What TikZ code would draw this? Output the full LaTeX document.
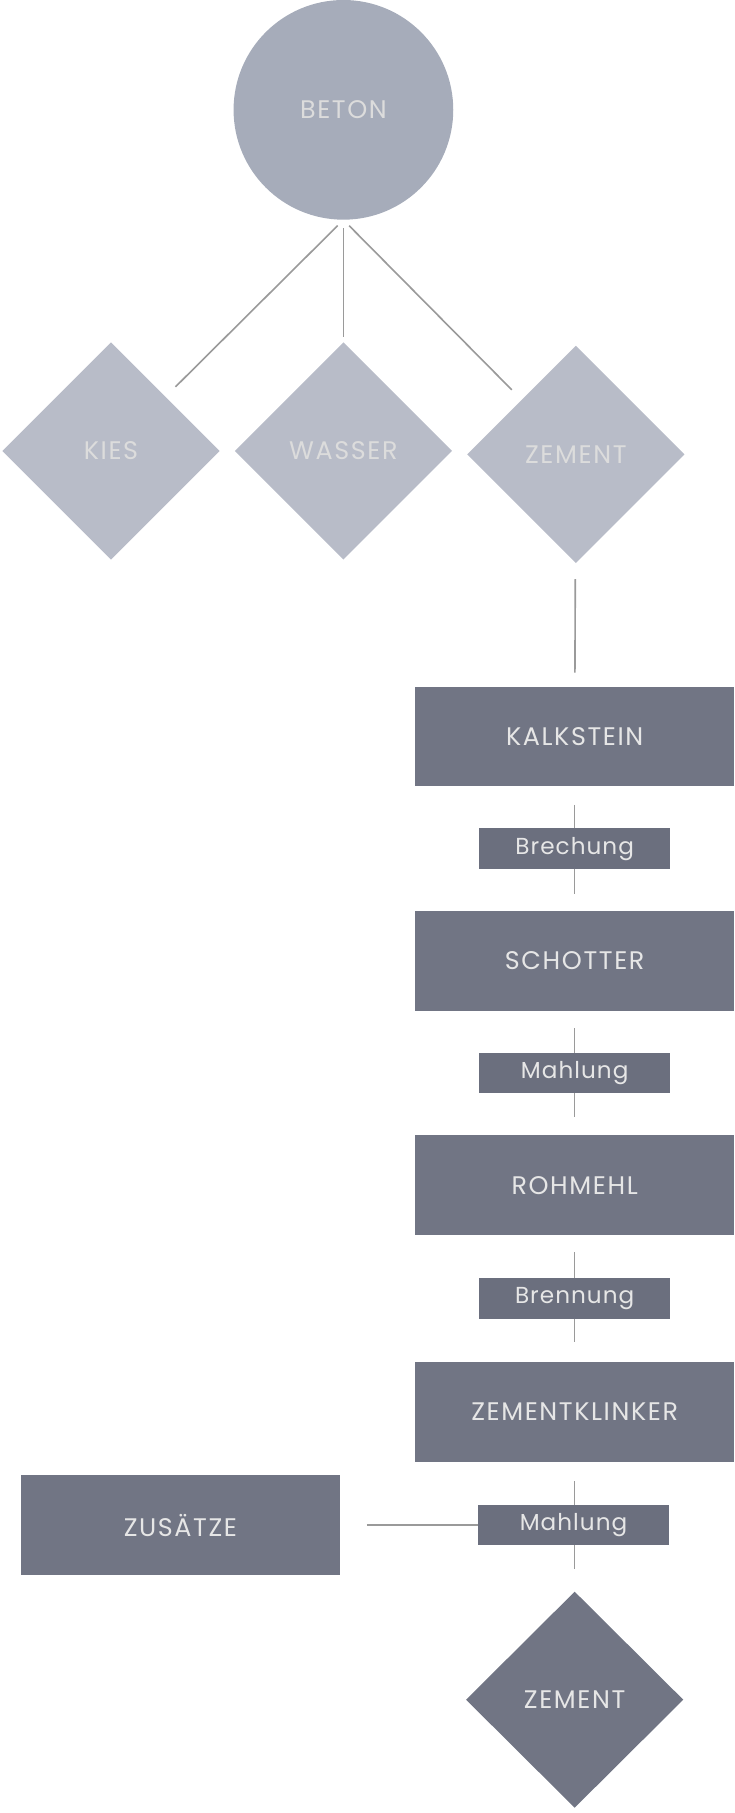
\documentclass[tikz,border=0pt]{standalone}
\usepackage{fontspec}
\setmainfont{Poppins}
\newfontfamily\knotenfont{Poppins}[LetterSpace=6.3]
\newfontfamily\schrittfont{Poppins}[LetterSpace=4.5]
\usepackage{xcolor}
\definecolor{Beton-fill}{HTML}{A6ACBA}
\definecolor{Stoff-fill}{HTML}{B8BCC8}
\definecolor{Prozess-fill}{HTML}{717584}
\definecolor{Schritt-fill}{HTML}{6B6F7E}
\definecolor{Linie}{HTML}{9A9A9A}
\definecolor{Text-hell}{HTML}{DCDCDC}
\definecolor{Text-weiss}{HTML}{E6E6E6}
\usetikzlibrary{shapes,positioning,calc}

\begin{document}
\begin{tikzpicture} [ % Stile
    x=1pt, y=-1pt, font=\knotenfont\fontsize{22}{24}\selectfont,
    kreis/.style = {circle, minimum size = 190pt, inner sep = 0pt, fill = Beton-fill, text = Text-hell, font=\knotenfont\fontsize{22}{24}\selectfont},
    raute/.style = {diamond, aspect = 1, minimum width = 188pt, minimum height = 188pt, inner sep = 0pt, fill = Stoff-fill, text = Text-hell, font=\knotenfont\fontsize{22}{24}\selectfont},
    raute2/.style = {diamond, aspect = 1, minimum width = 188pt, minimum height = 187pt, inner sep = 0pt, fill = Prozess-fill, text = Text-weiss, font=\knotenfont\fontsize{22}{24}\selectfont},
    rec/.style = {shape = rectangle, minimum height = 86pt, minimum width = 276pt, inner sep = 0pt, align = center, fill = Prozess-fill, text = Text-weiss, font=\knotenfont\fontsize{22}{24}\selectfont},
    proc/.style = {shape = rectangle, minimum height = 35pt, minimum width = 165pt, inner sep = 0pt, align = center, fill = Schritt-fill, text = Text-weiss, font = \schrittfont\fontsize{20}{22}\selectfont},
    verb/.style = {draw = Linie, line width = 1.4pt}
]

\useasboundingbox (0,0) rectangle (635,1568);

% Oben
\node [kreis] (beton) at (297,95){BETON};

\node [raute] (kies) at (96,390){KIES};
\node [raute] (wasser) at (297,390){WASSER};
\node [raute] (zement) at (498,393){ZEMENT};

% Kette
\node [rec] (kalk) at (497,637){KALKSTEIN};
\node [rec] (schotter) at (497,831){SCHOTTER};
\node [rec] (rohmehl) at (497,1025){ROHMEHL};
\node [rec] (klinker) at (497,1221){ZEMENTKLINKER};
\node [rec] (zusatz) at (156,1319){ZUSÄTZE};

\node [raute2] (zement2) at (497,1470){ZEMENT};

% Linien
\draw [verb, shorten <=7pt, shorten >=12pt] (beton.south)--(kies);
\draw [verb, shorten <=7pt, shorten >=4pt] (beton.south)--(wasser);
\draw [verb, shorten <=7pt, shorten >=12pt] (beton.south)--(zement);

\draw [verb, shorten <=14pt, shorten >=12pt] (zement)--(kalk);
\draw [verb, shorten <=16pt, shorten >=15pt] (kalk)--(schotter);
\draw [verb, shorten <=15pt, shorten >=16pt] (schotter)--(rohmehl);
\draw [verb, shorten <=15pt, shorten >=17pt] (rohmehl)--(klinker);
\draw [verb, shorten <=17pt, shorten >=19pt] (klinker)--(zement2);

% Schritte
\node [proc] (brech) at ($(kalk)!0.5!(schotter)$){Brechung};
\node [proc] (mahl1) at ($(schotter)!0.5!(rohmehl)$){Mahlung};
\node [proc] (brenn) at ($(rohmehl)!0.5!(klinker)$){Brennung};
\node [proc] (mahl2) at (496,1319){Mahlung};

\draw [verb, shorten <=23pt] (zusatz)--(mahl2);

\end{tikzpicture}
\end{document}
